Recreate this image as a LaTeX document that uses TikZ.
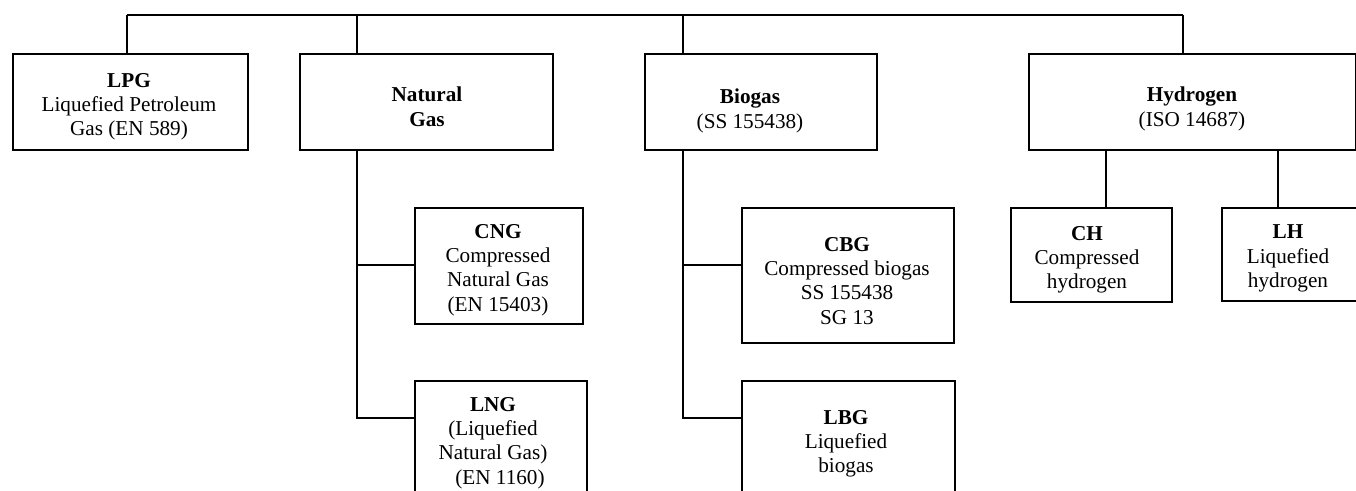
\documentclass[tikz,border=0pt]{standalone}
\usepackage{fontspec}
\setmainfont{Liberation Serif}
\newcommand{\gasbox}[5]{\node[box, minimum width={(#4-#2)*0.5pt}, minimum height={(#5-#3)*0.5pt}] (#1) at (#2,#3) {};}
\begin{document}
\begin{tikzpicture}[x=0.5pt,y=-0.5pt, line width=1pt,
  box/.style={draw, line width=1pt, inner sep=0pt, anchor=north west},
  txt/.style={align=center, inner sep=0pt, anchor=north, font=\fontsize{10.6}{12.2}\selectfont},
  link/.style={draw, line width=1pt}]
\useasboundingbox (0,0) rectangle (1356,491);
\clip (0,0) rectangle (1356,491);
% boxes
\gasbox{lpg}{12}{53}{247}{149}
\gasbox{ng}{299}{53}{552}{149}
\gasbox{bio}{644}{53}{876}{149}
\gasbox{hyd}{1028}{53}{1355}{149}
\gasbox{cng}{414}{207}{582}{323}
\gasbox{lng}{414}{380}{586}{520}
\gasbox{cbg}{741}{207}{953}{342}
\gasbox{lbg}{741}{380}{954}{520}
\gasbox{ch}{1010}{207}{1171}{301}
\gasbox{lh}{1221}{207}{1359}{300}
% texts
\node[txt] (lpgt) at (129,72) {\textbf{LPG}\\Liquefied Petroleum\\Gas (EN 589)};
\node[txt] (ngt) at (427,86) {\textbf{Natural}\\\textbf{Gas}};
\node[txt] (biot) at (750,88) {\textbf{Biogas}\\(SS 155438)};
\node[txt] (hydt) at (1192,86) {\textbf{Hydrogen}\\(ISO 14687)};
\node[txt] (cngt) at (498,223) {\textbf{CNG}\\Compressed\\Natural Gas\\(EN 15403)};
\node[txt] (lngt) at (493,396) {\textbf{LNG}\\(Liquefied\\Natural Gas)\\\hspace*{7pt}(EN 1160)};
\node[txt] (cbgt) at (847,236) {\textbf{CBG}\\Compressed biogas\\SS 155438\\SG 13};
\node[txt] (lbgt) at (846,409) {\textbf{LBG}\\Liquefied\\biogas};
\node[txt] (cht) at (1087,225) {\textbf{CH}\\Compressed\\hydrogen};
\node[txt] (lht) at (1288,224) {\textbf{LH}\\Liquefied\\hydrogen};
% top bus
\coordinate (bL) at (127,15);
\coordinate (bN) at (357,15);
\coordinate (bB) at (683,15);
\coordinate (bH) at (1183,15);
\draw[link] (bL) -- (bH);
\draw[link] (bL) -- (bL |- lpg.north);
\draw[link] (bN) -- (bN |- ng.north);
\draw[link] (bB) -- (bB |- bio.north);
\draw[link] (bH) -- (bH |- hyd.north);
% natural gas branch
\coordinate (nv) at (357,418);
\coordinate (nc) at (357,265);
\draw[link] (nv |- ng.south) -- (nv) -- (nv -| lng.west);
\draw[link] (nc) -- (nc -| cng.west);
% biogas branch
\coordinate (bv) at (683,418);
\coordinate (bc) at (683,265);
\draw[link] (bv |- bio.south) -- (bv) -- (bv -| lbg.west);
\draw[link] (bc) -- (bc -| cbg.west);
% hydrogen branch
\coordinate (hc) at (1106,0);
\coordinate (hl) at (1278,0);
\draw[link] (hc |- hyd.south) -- (hc |- ch.north);
\draw[link] (hl |- hyd.south) -- (hl |- lh.north);
\end{tikzpicture}
\end{document}
